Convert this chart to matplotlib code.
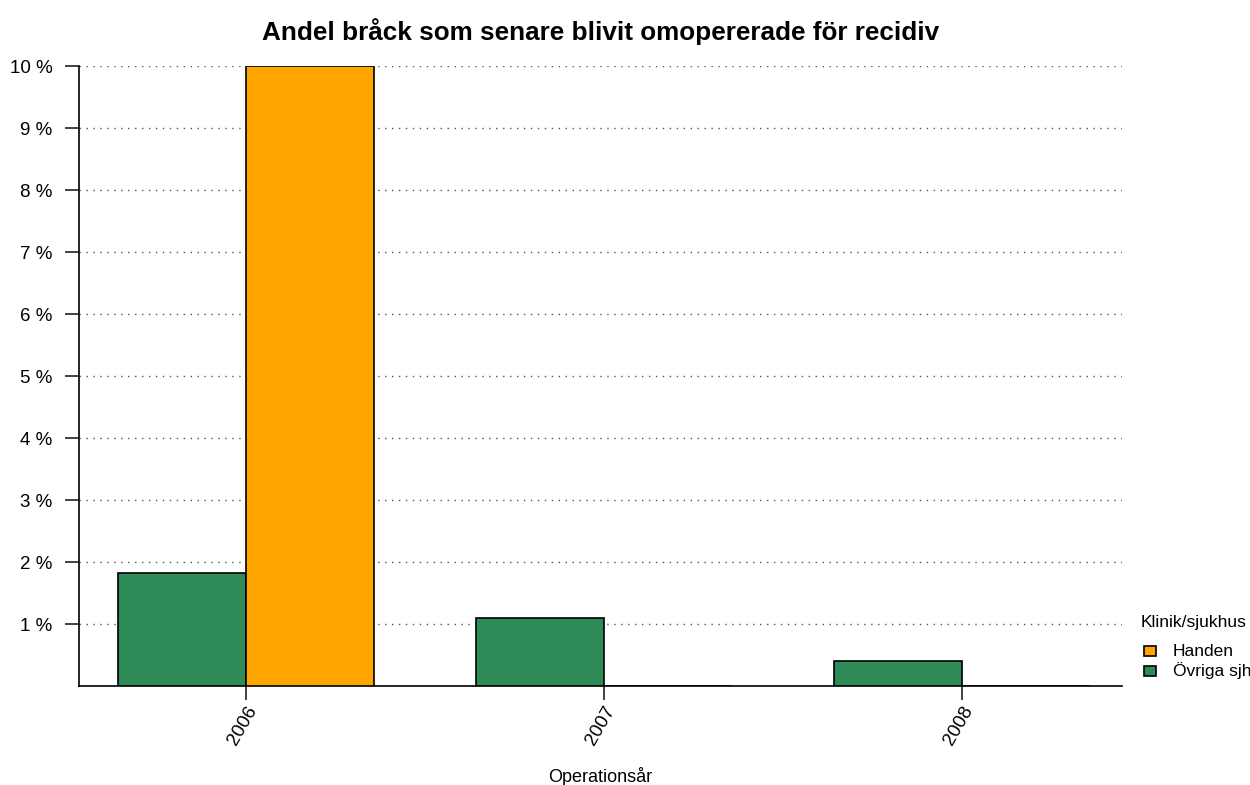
import matplotlib.pyplot as plt
import numpy as np
from matplotlib.patches import Rectangle

plt.rcParams['font.family'] = ['Liberation Sans', 'DejaVu Sans']

# -------------------- DATA --------------------
years = ['2006', '2007', '2008']
ovriga = [1.82, 1.1, 0.4]      # Övriga sjh (%)
handen = [10.0, 0.0, 0.0]      # Handen (%)
ytick_vals = [1, 2, 3, 4, 5, 6, 7, 8, 9, 10]
ytick_labels = [f"{v} %" for v in ytick_vals]
legend_labels = ['Handen', 'Övriga sjh']
# ----------------------------------------------

GREEN = '#2E8B57'
ORANGE = '#FFA500'

W, H = 1250, 785
fig = plt.figure(figsize=(W / 100, H / 100), dpi=100)
ax = fig.add_axes([0.0632, 0.1261, 0.8344, 0.7898])

x = np.arange(len(years))
w = 0.3575
ax.bar(x - w / 2, ovriga, width=w, color=GREEN, edgecolor='black', linewidth=1.2, zorder=3)
ax.bar(x + w / 2, handen, width=w, color=ORANGE, edgecolor='black', linewidth=1.2, zorder=3)

ax.set_xlim(-0.466, 2.447)
ax.set_ylim(0, 10)

ax.set_yticks(ytick_vals)
ax.set_yticklabels(ytick_labels, fontsize=13.5)
ax.set_xticks(x)
ax.set_xticklabels(years, rotation=60, ha='right', va='top', rotation_mode='anchor', fontsize=13.5)
ax.tick_params(axis='both', length=10, width=1.2, color='#222222')
ax.tick_params(axis='y', pad=9)
ax.tick_params(axis='x', pad=2)

ax.grid(axis='y', linestyle=(0, (1, 4)), color='#555555', linewidth=1, zorder=0)
ax.set_axisbelow(True)

for s in ['top', 'right']:
    ax.spines[s].set_visible(False)
ax.spines['left'].set_linewidth(1.2)
ax.spines['bottom'].set_linewidth(1.2)

ax.set_title("Andel bråck som senare blivit omopererade för recidiv",
             fontsize=18.8, fontweight='bold', pad=19)
ax.set_xlabel("Operationsår", fontsize=13, labelpad=14)

# legend drawn by hand (R-style, no frame)
fig.text(1141 / W, 1 - 623 / H, 'Klinik/sjukhus', fontsize=12.5, ha='left', va='center')
for i, (lab, col) in enumerate(zip(legend_labels, [ORANGE, GREEN])):
    yc = 651 + i * 20
    fig.patches.append(Rectangle((1144 / W, 1 - (yc + 5) / H), 12 / W, 10 / H,
                                 transform=fig.transFigure, facecolor=col,
                                 edgecolor='black', linewidth=1.2))
    fig.text(1173 / W, 1 - yc / H, lab, fontsize=12.5, ha='left', va='center')

fig.savefig('out.png', dpi=100)
